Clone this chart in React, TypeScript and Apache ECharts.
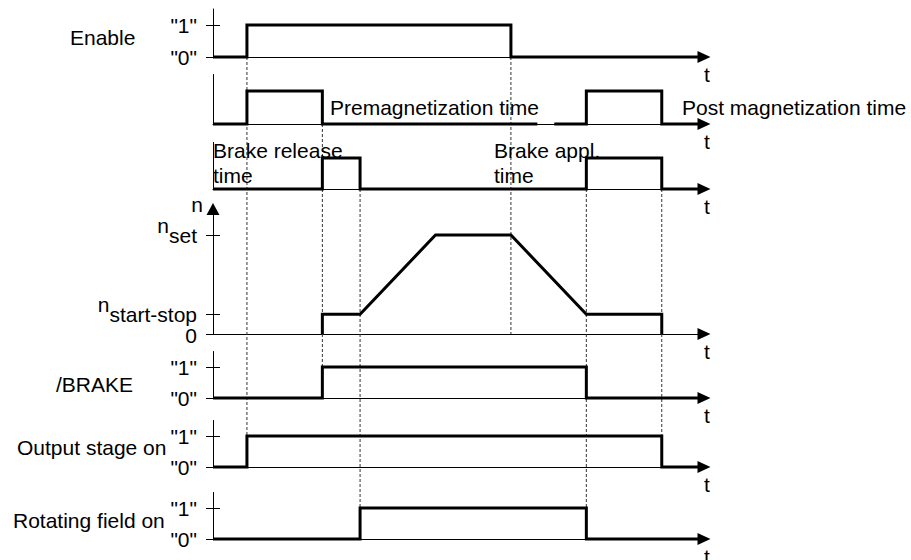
import React, { useEffect, useRef } from 'react';
import * as echarts from 'echarts';

const FONT = '"Liberation Sans", Arial, Helvetica, sans-serif';
const INK = '#000';

// ---- data (time in arbitrary units, levels: 0 / 1, speed relative to n_set) ----
const timeAxisMax = 13.02;

const enableSignal = [[0, 0], [0.9, 0], [0.9, 1], [7.9, 1], [7.9, 0], [13.02, 0]];
const magnetizationSignal = [
  [0, 0], [0.9, 0], [0.9, 1], [2.9, 1], [2.9, 0], [8.6, 0], [8.8, '-'],
  [9.05, 0], [9.9, 0], [9.9, 1], [11.9, 1], [11.9, 0], [13.02, 0],
];
const brakeTimeSignal = [
  [0, 0], [2.9, 0], [2.9, 1], [3.9, 1], [3.9, 0], [9.9, 0], [9.9, 1], [11.9, 1], [11.9, 0], [13.02, 0],
];
const speedSignal = [[2.9, 0], [2.9, 0.2], [3.9, 0.2], [5.9, 1], [7.9, 1], [9.9, 0.2], [11.9, 0.2], [11.9, 0]];
const brakeSignal = [[0, 0], [2.9, 0], [2.9, 1], [9.9, 1], [9.9, 0], [13.02, 0]];
const outputStageSignal = [[0, 0], [0.9, 0], [0.9, 1], [11.9, 1], [11.9, 0], [13.02, 0]];
const rotatingFieldSignal = [[0, 0], [3.9, 0], [3.9, 1], [9.9, 1], [9.9, 0], [13.02, 0]];

const logicTicks = [0, 1];
const logicTickLabels = ['"0"', '"1"'];
const speedTicks = [0, 0.2, 1];
const speedTickLabels = ['0', 'start-stop', 'set'];

const rowLabels = ['Enable', '/BRAKE', 'Output stage on', 'Rotating field on'];
const annotations = ['Premagnetization time', 'Post magnetization time', 'Brake release\ntime', 'Brake appl.\ntime'];

// guide lines: time, from (row, level) to (row, level)
const guideTimes = [0.9, 2.9, 3.9, 7.9, 9.9, 11.9];
const guideFrom = [[0, 0], [1, 0], [2, 0], [0, 0], [2, 0], [2, 0]];
const guideTo = [[5, 1], [4, 1], [6, 1], [3, 0], [6, 1], [5, 1]];

// ---- layout ----
type Row = { signal: any[]; top: number; height: number; max: number; kind: 'logic' | 'none' | 'speed' };
const rows: Row[] = [
  { signal: enableSignal, top: 9, height: 48, max: 1.5, kind: 'logic' },
  { signal: magnetizationSignal, top: 74.5, height: 49.5, max: 1.5, kind: 'none' },
  { signal: brakeTimeSignal, top: 142.5, height: 46.5, max: 1.5, kind: 'none' },
  { signal: speedSignal, top: 209, height: 125, max: 1.263, kind: 'speed' },
  { signal: brakeSignal, top: 351.5, height: 46.5, max: 1.5, kind: 'logic' },
  { signal: outputStageSignal, top: 420.5, height: 46.5, max: 1.5, kind: 'logic' },
  { signal: rotatingFieldSignal, top: 492.5, height: 46.5, max: 1.5, kind: 'logic' },
];

function buildOption() {
  const grid: any[] = [];
  const xAxis: any[] = [];
  const yAxis: any[] = [];
  const series: any[] = [];
  const axisLineStyle = { color: INK, width: 1 };

  rows.forEach((r, i) => {
    grid.push({ left: 213, width: 491, top: r.top, height: r.height, containLabel: false, outerBoundsMode: 'none' });
    xAxis.push({
      type: 'value', gridIndex: i, min: 0, max: timeAxisMax,
      axisLine: { show: true, onZero: false, symbol: ['none', 'triangle'], symbolSize: [12, 13], lineStyle: axisLineStyle },
      axisTick: { show: false }, axisLabel: { show: false }, splitLine: { show: false },
      name: 't', nameLocation: 'end', nameGap: 3,
      nameTextStyle: { fontSize: 21, fontFamily: FONT, color: INK, align: 'center', verticalAlign: 'top', lineHeight: 34 },
    });
    const mainIndex = yAxis.length;
    const ticks = r.kind === 'speed' ? speedTicks : logicTicks;
    const main: any = {
      type: 'value', gridIndex: i, position: 'left', min: 0, max: r.max,
      axisLine: { show: true, onZero: false, lineStyle: axisLineStyle },
      axisTick: { show: r.kind !== 'none', inside: false, length: 7, customValues: ticks, lineStyle: axisLineStyle },
      axisLabel: { show: false },
      splitLine: { show: false },
    };
    if (r.kind === 'logic') {
      main.axisLabel = {
        show: true, customValues: logicTicks, margin: 16, fontSize: 21, fontFamily: FONT, color: INK,
        showMinLabel: true, showMaxLabel: true,
        padding: [6, 0, 0, 0],
        formatter: (v: number) => logicTickLabels[logicTicks.indexOf(Math.round(v))] || '',
      };
    }
    if (r.kind === 'speed') {
      main.axisLine.symbol = ['none', 'triangle'];
      main.axisLine.symbolSize = [13, 12];
      main.name = 'n';
      main.nameLocation = 'end';
      main.nameGap = 4;
      main.nameTextStyle = { fontSize: 21, fontFamily: FONT, color: INK, align: 'right', verticalAlign: 'middle', padding: [0, 10, 0, 0] };
      main.axisLabel = {
        show: true, customValues: speedTicks, margin: 16, fontSize: 21, fontFamily: FONT, color: INK,
        showMinLabel: true, showMaxLabel: true, hideOverlap: false,
        formatter: (v: number) => {
          const k = speedTicks.findIndex((s) => Math.abs(s - v) < 1e-6);
          if (k < 0) return '';
          if (k === 0) return '{z|' + speedTickLabels[0] + '}';
          return '{n|n}{s|' + speedTickLabels[k] + '}';
        },
        rich: {
          z: { fontSize: 21, fontFamily: FONT, color: INK, padding: [3, 0, 0, 0] },
          n: { fontSize: 21, fontFamily: FONT, color: INK, padding: [0, 0, 20, 0] },
          s: { fontSize: 21, fontFamily: FONT, color: INK },
        },
      };
    }
    yAxis.push(main);
    if (r.kind !== 'none') {
      yAxis.push({
        type: 'value', gridIndex: i, position: 'left', offset: 0, min: 0, max: r.max,
        axisLine: { show: false },
        axisTick: { show: true, inside: true, length: 7, customValues: ticks, lineStyle: axisLineStyle },
        axisLabel: { show: false }, splitLine: { show: false },
      });
    }
    series.push({
      type: 'line', xAxisIndex: i, yAxisIndex: mainIndex, data: r.signal,
      symbol: 'none', showSymbol: false, silent: true, clip: false, z: 5,
      connectNulls: false,
      lineStyle: { color: INK, width: 3, join: 'miter', cap: 'butt' },
    });
  });

  return {
    animation: false,
    backgroundColor: '#fff',
    textStyle: { fontFamily: FONT },
    grid, xAxis, yAxis, series,
  };
}

function txt(text: string, x: number, y: number, lineHeight = 25) {
  return {
    type: 'text', x, y, z: 10, silent: true,
    style: {
      text, fill: INK, fontSize: 21, fontFamily: FONT, lineHeight,
      align: 'left', verticalAlign: 'middle', textAlign: 'left', textVerticalAlign: 'middle',
    },
  };
}

export default function App() {
  const ref = useRef<HTMLDivElement>(null);
  useEffect(() => {
    if (!ref.current) return;
    const chart = echarts.init(ref.current, undefined, { renderer: 'svg' });
    chart.setOption(buildOption() as any);

    const elements: any[] = [];
    guideTimes.forEach((t, i) => {
      const p1 = chart.convertToPixel({ seriesIndex: guideFrom[i][0] } as any, [t, guideFrom[i][1]]) as number[];
      const p2 = chart.convertToPixel({ seriesIndex: guideTo[i][0] } as any, [t, guideTo[i][1]]) as number[];
      elements.push({
        type: 'line', z: 1, silent: true,
        shape: { x1: p1[0], y1: p1[1], x2: p2[0], y2: p2[1] },
        style: { stroke: '#333', lineWidth: 1, lineDash: [3, 2] },
      });
    });
    elements.push(txt(rowLabels[0], 70, 37));
    elements.push(txt(rowLabels[1], 56, 384));
    elements.push(txt(rowLabels[2], 17, 447));
    elements.push(txt(rowLabels[3], 13, 520));
    elements.push(txt(annotations[0], 330, 107));
    elements.push(txt(annotations[1], 682, 107));
    elements.push(txt(annotations[2], 213, 162.5));
    elements.push(txt(annotations[3], 494, 162.5));
    chart.setOption({ graphic: { elements } } as any);

    return () => chart.dispose();
  }, []);
  return (
    <div
      ref={ref}
      style={{ position: 'absolute', left: 0, top: 0, width: 911, height: 560, background: '#fff' }}
    />
  );
}
